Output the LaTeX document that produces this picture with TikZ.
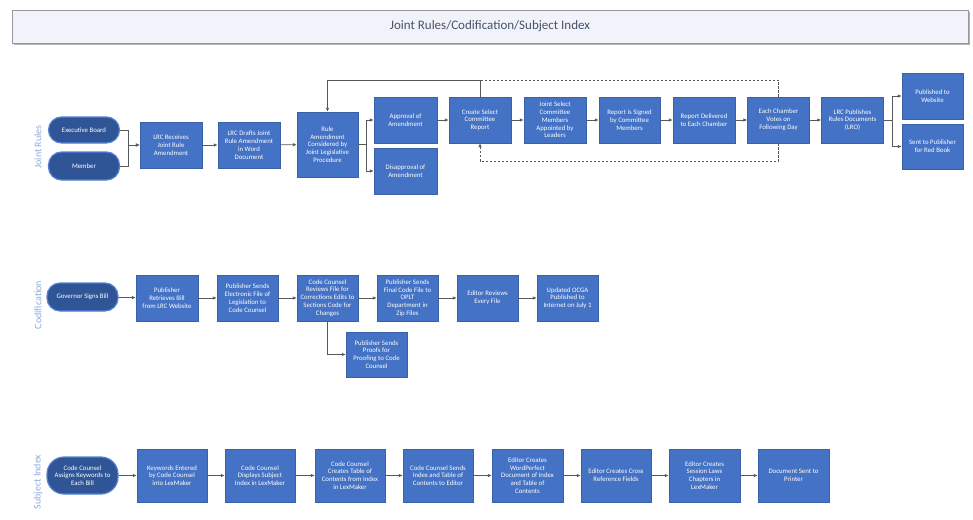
\documentclass[tikz,border=0pt]{standalone}
\usepackage{fontspec}
\setmainfont{Carlito}
\usetikzlibrary{arrows.meta,shadows}
\definecolor{boxblue}{RGB}{68,114,196}
\definecolor{pillblue}{RGB}{47,85,151}
\definecolor{pilledge}{RGB}{84,130,214}
\definecolor{connc}{RGB}{89,89,89}
\definecolor{lanelbl}{RGB}{143,170,220}
\definecolor{titlefill}{RGB}{242,242,250}
\definecolor{titleedge}{RGB}{150,150,160}
\definecolor{titletext}{RGB}{68,84,106}
\tikzset{
  box/.style={rectangle, fill=boxblue, draw=boxblue!85!black, line width=0.4pt, text=white,
    font=\fontsize{6.8}{7.8}\selectfont, align=center, inner sep=1pt,
    minimum width=62pt, minimum height=46pt},
  pill/.style={rectangle, rounded corners=13pt, fill=pillblue, draw=pilledge, line width=1.2pt,
    text=white, font=\fontsize{6.8}{7.8}\selectfont, align=center, inner sep=1pt,
    minimum width=71pt, minimum height=27pt},
  conn/.style={draw=connc, line width=0.8pt},
  arr/.style={conn, -{Latex[length=4pt,width=3.5pt]}},
  dconn/.style={conn, dashed, dash pattern=on 2.5pt off 1.5pt},
  lanelabel/.style={text=lanelbl, font=\fontsize{10}{11}\selectfont, rotate=90}
}
\begin{document}
\begin{tikzpicture}[x=1pt,y=-1pt]
\useasboundingbox (0,0) rectangle (973,519);
% title bar
\fill[black!30] (14,12) rectangle (970,45);
\node[draw=titleedge, fill=titlefill, line width=0.6pt, minimum width=956pt, minimum height=33pt,
  text=titletext, font=\fontsize{13}{14}\selectfont, inner sep=0pt] (title) at (490,26.5) {Joint Rules/Codification/Subject Index};

% lane labels
\node[lanelabel] (l1) at (38,147) {Joint Rules};
\node[lanelabel] (l2) at (38,305) {Codification};
\node[lanelabel] (l3) at (38,482) {Subject Index};

% ---------- Joint Rules ----------
\node[pill, minimum height=26pt] (exec) at (84,130) {Executive Board};
\node[pill, minimum height=28pt] (memb) at (84,166) {Member};
\node[box] (recv) at (171,145) {LRC Receives\\Joint Rule\\Amendment};
\node[box] (draft) at (249,145) {LRC Drafts Joint\\Rule Amendment\\in Word\\Document};
\node[box, minimum width=61pt, minimum height=65pt] (rule) at (327.5,144.5) {Rule\\Amendment\\Considered by\\Joint Legislative\\Procedure};
\node[box, minimum width=63pt] (appr) at (405.5,120) {Approval of\\Amendment};
\node[box, minimum width=63pt] (disa) at (405.5,171) {Disapproval of\\Amendment};
\node[box] (create) at (480,120) {Create Select\\Committee\\Report};
\node[box] (joint) at (555,120) {Joint Select\\Committee\\Members\\Appointed by\\Leaders};
\node[box, minimum width=61pt] (signed) at (629.5,120) {Report is Signed\\by Committee\\Members};
\node[box] (deliv) at (704,120) {Report Delivered\\to Each Chamber};
\node[box] (each) at (778.5,120) {Each Chamber\\Votes on\\Following Day};
\node[box] (lrcpub) at (852.5,120) {LRC Publishes\\Rules Documents\\(LRO)};
\node[box, minimum width=61pt] (web) at (932.5,96) {Published to\\Website};
\node[box, minimum width=61pt, minimum height=45pt] (red) at (932.5,146.5) {Sent to Publisher\\for Red Book};

\draw[arr] (exec.east) -- ++(8,0) |- (recv.west);
\draw[arr] (memb.east) -- ++(8,0) |- (recv.west);
\draw[arr] (recv) -- (draft);
\draw[arr] (draft) -- (rule);
\draw[arr] (rule.east) -- ++(8,0) |- (appr.west);
\draw[arr] (rule.east) -- ++(8,0) |- (disa.west);
\draw[arr] (appr) -- (create);
\draw[arr] (create) -- (joint);
\draw[arr] (joint) -- (signed);
\draw[arr] (signed) -- (deliv);
\draw[arr] (deliv) -- (each);
\draw[arr] (each) -- (lrcpub);
\draw[arr] (lrcpub.east) -- ++(9,0) |- (web.west);
\draw[arr] (lrcpub.east) -- ++(9,0) |- (red.west);
% loops
\draw[arr] (create.north) -- (create.north |- 0,80) -| (rule.north);
\draw[dconn] (each.north) -- (each.north |- 0,80) -- (create.north |- 0,80);
\draw[dconn, -{Latex[length=4pt,width=3.5pt]}] (each.south) -- (each.south |- 0,161) -| (create.south);

% ---------- Codification ----------
\node[pill, minimum height=28pt] (gov) at (82.5,297) {Governor Signs Bill};
\node[box] (retr) at (167,298) {Publisher\\Retrieves Bill\\from LRC Website};
\node[box, minimum width=61pt] (elec) at (247.5,298) {Publisher Sends\\Electronic File of\\Legislation to\\Code Counsel};
\node[box, minimum width=61pt] (rev) at (327.5,298) {Code Counsel\\Reviews File for\\Corrections Edits to\\Sections Code for\\Changes};
\node[box, minimum width=61pt] (final) at (407.5,298) {Publisher Sends\\Final Code File to\\OPLT\\Department in\\Zip Files};
\node[box, minimum width=61pt] (edrev) at (487.5,298) {Editor Reviews\\Every File};
\node[box, minimum width=61pt] (upd) at (567.5,298) {Updated OCGA\\Published to\\Internet on July 1};
\node[box, minimum width=61pt, minimum height=45pt] (proof) at (376.5,354.5) {Publisher Sends\\Proofs for\\Proofing to Code\\Counsel};

\draw[arr] (gov) -- (retr);
\draw[arr] (retr) -- (elec);
\draw[arr] (elec) -- (rev);
\draw[arr] (rev) -- (final);
\draw[arr] (final) -- (edrev);
\draw[arr] (edrev) -- (upd);
\draw[arr] (rev.south) |- (proof.west);

% ---------- Subject Index ----------
\node[pill, minimum height=37pt, rounded corners=17pt] (assign) at (82.5,475.5) {Code Counsel\\Assigns Keywords to\\Each Bill};
\node[box, minimum width=70pt, minimum height=53pt] (s1) at (172,475.5) {Keywords Entered\\by Code Counsel\\into LexMaker};
\node[box, minimum width=70pt, minimum height=53pt] (s2) at (260,475.5) {Code Counsel\\Displays Subject\\Index in LexMaker};
\node[box, minimum width=70pt, minimum height=53pt] (s3) at (350,475.5) {Code Counsel\\Creates Table of\\Contents from Index\\in LexMaker};
\node[box, minimum width=70pt, minimum height=53pt] (s4) at (438,475.5) {Code Counsel Sends\\Index and Table of\\Contents to Editor};
\node[box, minimum width=71pt, minimum height=53pt] (s5) at (527.5,475.5) {Editor Creates\\WordPerfect\\Document of Index\\and Table of\\Contents};
\node[box, minimum width=70pt, minimum height=53pt] (s6) at (616,475.5) {Editor Creates Cross\\Reference Fields};
\node[box, minimum width=71pt, minimum height=53pt] (s7) at (704.5,475.5) {Editor Creates\\Session Laws\\Chapters in\\LexMaker};
\node[box, minimum width=71pt, minimum height=53pt] (s8) at (793.5,475.5) {Document Sent to\\Printer};

\draw[arr] (assign) -- (s1);
\draw[arr] (s1) -- (s2);
\draw[arr] (s2) -- (s3);
\draw[arr] (s3) -- (s4);
\draw[arr] (s4) -- (s5);
\draw[arr] (s5) -- (s6);
\draw[arr] (s6) -- (s7);
\draw[arr] (s7) -- (s8);
\end{tikzpicture}
\end{document}
